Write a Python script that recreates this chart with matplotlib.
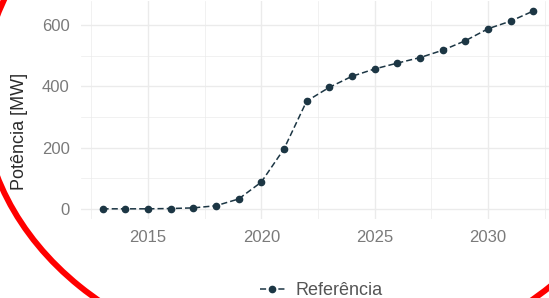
import matplotlib
matplotlib.use("Agg")
import matplotlib.pyplot as plt
from matplotlib.patches import Ellipse
from matplotlib.ticker import MultipleLocator

# values
anos = list(range(2013, 2033))
potencia = [1, 1, 1, 2, 4, 11, 33, 88, 196, 352, 397, 433, 457, 476, 494, 518, 549, 588, 613, 646]
serie_label = "Referência"
y_label = "Potência [MW]"

line_color = "#1c3644"
grid_color = "#ebebeb"
tick_color = "#7a7a7a"

plt.rcParams["font.family"] = ["Liberation Sans", "DejaVu Sans"]

fig = plt.figure(figsize=(5.49, 2.98), dpi=100)
ax = fig.add_axes([0.1475, 0.265, 0.8634, 0.7315])

ax.plot(anos, potencia, linestyle="--", color=line_color, linewidth=1.1,
        marker="o", markersize=4.5, label=serie_label, dashes=(4, 2))

ax.set_xlim(2012.05, 2032.95)
ax.set_ylim(-32.3, 678.3)
ax.xaxis.set_major_locator(MultipleLocator(5))
ax.xaxis.set_minor_locator(MultipleLocator(2.5))
ax.yaxis.set_major_locator(MultipleLocator(200))
ax.yaxis.set_minor_locator(MultipleLocator(100))

ax.grid(which="major", color=grid_color, linewidth=1.0)
ax.grid(which="minor", color=grid_color, linewidth=0.5)
ax.set_axisbelow(True)
for s in ax.spines.values():
    s.set_visible(False)
ax.tick_params(which="both", length=0, labelsize=12, labelcolor=tick_color)
ax.tick_params(axis="y", pad=8)
ax.tick_params(axis="x", pad=8)
ax.set_ylabel(y_label, fontsize=13, color="#2a2a2a")
ax.yaxis.set_label_coords(-0.112, 0.404)

fig.legend(loc="center", bbox_to_anchor=(0.585, 0.025), frameon=False,
           fontsize=13, handlelength=1.4, handletextpad=0.6, labelcolor="#555555")

# red ellipse annotation drawn over the screenshot (pixel coordinates)
overlay = fig.add_axes([0, 0, 1, 1], facecolor="none")
overlay.set_xlim(0, 549)
overlay.set_ylim(298, 0)
overlay.axis("off")
overlay.add_patch(Ellipse((315, 96), 666, 538, fill=False,
                          edgecolor="#ff0000", linewidth=4.3))

fig.savefig("out.png", dpi=100)
